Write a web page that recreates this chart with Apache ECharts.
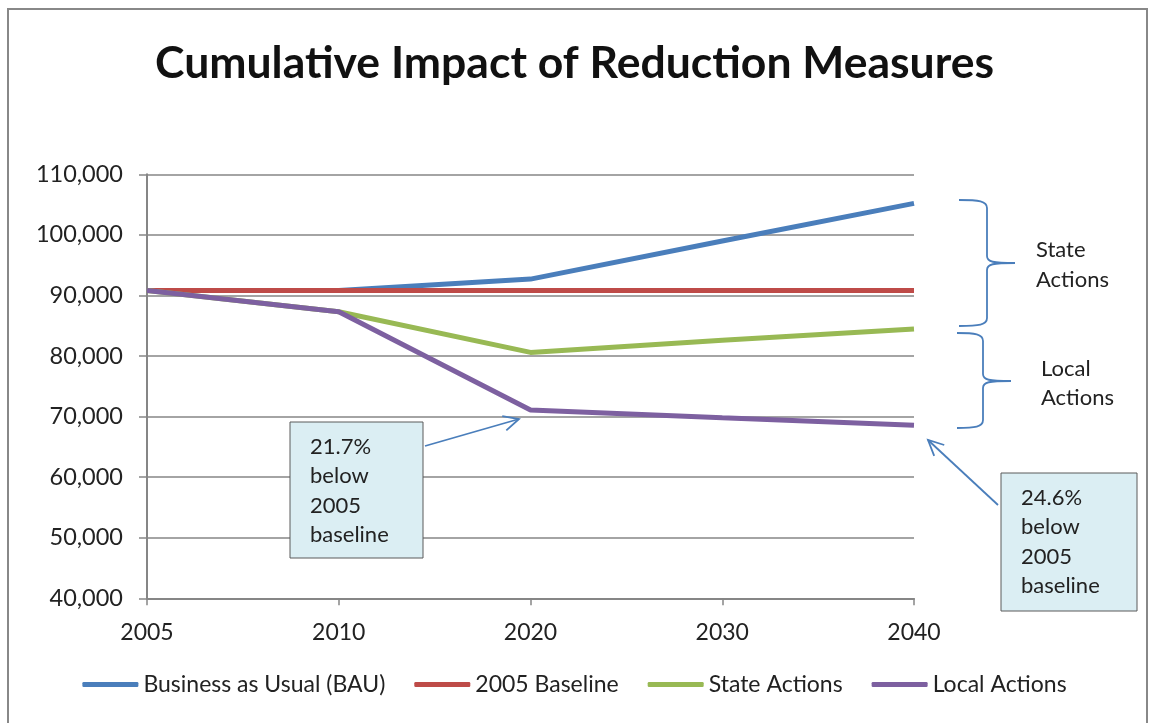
<!DOCTYPE html>
<html>
<head>
<meta charset="utf-8">
<title>Cumulative Impact of Reduction Measures</title>
<script src="https://cdn.jsdelivr.net/npm/echarts@6/dist/echarts.min.js"></script>
<style>
    html, body { margin: 0; padding: 0; background: #fff; }
    #main { width: 1149px; height: 723px; }
</style>
</head>
<body>
<div id="main"></div>
<script>
// data
var years = ['2005', '2010', '2020', '2030', '2040'];
var bauValues = [90800, 90800, 92700, 99000, 105200];
var baselineValues = [90800, 90800, 90800, 90800, 90800];
var stateValues = [90800, 87300, 80600, 82600, 84450];
var localValues = [90800, 87300, 71100, 69800, 68550];
var seriesNames = ['Business as Usual (BAU)', '2005 Baseline', 'State Actions', 'Local Actions'];
var seriesColors = ['#4a7ebb', '#be4b48', '#98b954', '#7d60a0'];
var note2020 = ['21.7%', 'below', '2005', 'baseline'];
var note2040 = ['24.6%', 'below', '2005', 'baseline'];

var fontFam = 'Lato, "Open Sans", sans-serif';
var textColor = '#222';
var annoStyle = { stroke: '#4a7ebb', lineWidth: 1.8, fill: null };

function makeLine(name, data, color) {
    return {
        name: name,
        type: 'line',
        data: data,
        showSymbol: false,
        symbol: 'none',
        lineStyle: { width: 5, color: color },
        itemStyle: { color: color },
        animation: false
    };
}

// 注释框
function noteBox(x, y, w, h, lines) {
    return {
        type: 'group',
        x: x, y: y, z: 100,
        children: [{
            type: 'rect',
            z: 100,
            shape: { x: 0, y: 0, width: w, height: h },
            style: { fill: '#dbeef3', stroke: '#5a5a5a', lineWidth: 1 }
        }, {
            type: 'text',
            z: 101,
            x: 20, y: 10,
            style: {
                text: lines.join('\n'),
                font: '22px ' + fontFam,
                lineHeight: 29.5,
                fill: textColor
            }
        }]
    };
}

function arrow(x1, y1, x2, y2) {
    var ang = Math.atan2(y2 - y1, x2 - x1);
    var len = 17, spread = 0.45;
    var ax = x2 - len * Math.cos(ang - spread), ay = y2 - len * Math.sin(ang - spread);
    var bx = x2 - len * Math.cos(ang + spread), by = y2 - len * Math.sin(ang + spread);
    return {
        type: 'group',
        z: 100,
        children: [
            { type: 'line', z: 100, shape: { x1: x1, y1: y1, x2: x2, y2: y2 }, style: annoStyle },
            { type: 'polyline', z: 100, shape: { points: [[ax, ay], [x2, y2], [bx, by]] }, style: annoStyle }
        ]
    };
}

// 大括号
function curve(x1, y1, cx1, cy1, cx2, cy2, x2, y2) {
    return {
        type: 'bezierCurve',
        z: 100,
        shape: { x1: x1, y1: y1, cpx1: cx1, cpy1: cy1, cpx2: cx2, cpy2: cy2, x2: x2, y2: y2 },
        style: annoStyle
    };
}
function brace(xStart, xMid, xTip, yTop, yTip, yBot) {
    return {
        type: 'group',
        z: 100,
        children: [
            curve(xStart, yTop, xMid - 8, yTop, xMid, yTop + 1, xMid, yTop + 8),
            { type: 'line', z: 100, shape: { x1: xMid, y1: yTop + 8, x2: xMid, y2: yTip - 7 }, style: annoStyle },
            curve(xMid, yTip - 7, xMid, yTip - 1, xMid + 6, yTip, xTip, yTip),
            curve(xTip, yTip, xMid + 6, yTip, xMid, yTip + 1, xMid, yTip + 7),
            { type: 'line', z: 100, shape: { x1: xMid, y1: yTip + 7, x2: xMid, y2: yBot - 8 }, style: annoStyle },
            curve(xMid, yBot - 8, xMid, yBot - 1, xMid - 8, yBot, xStart, yBot)
        ]
    };
}

var chart = echarts.init(document.getElementById('main'));
var option = {
    backgroundColor: '#fff',
    animation: false,
    title: {
        text: 'Cumulative Impact of Reduction Measures',
        left: 'center',
        top: 36,
        textStyle: { fontFamily: fontFam, fontSize: 44.5, fontWeight: 'bold', color: '#111' }
    },
    grid: { left: 147, right: 235, top: 174.3, bottom: 124.7, containLabel: false },
    legend: {
        data: seriesNames,
        top: 668,
        left: 'center',
        icon: 'roundRect',
        itemWidth: 56,
        itemHeight: 5,
        itemGap: 29,
        textStyle: { fontFamily: fontFam, fontSize: 23, color: textColor }
    },
    xAxis: {
        type: 'category',
        data: years,
        boundaryGap: false,
        axisLine: { lineStyle: { color: '#868686', width: 2 } },
        axisTick: { show: true, length: 7, lineStyle: { color: '#868686', width: 1.5 } },
        axisLabel: { fontFamily: fontFam, fontSize: 23, color: textColor, margin: 23 },
        splitLine: { show: false }
    },
    yAxis: {
        type: 'value',
        min: 40000,
        max: 110000,
        interval: 10000,
        axisLine: { show: true, lineStyle: { color: '#868686', width: 2 } },
        axisTick: { show: true, length: 8, lineStyle: { color: '#868686', width: 1.5 } },
        axisLabel: {
            fontFamily: fontFam, fontSize: 23.5, color: textColor, margin: 24,
            formatter: function(v) { return v.toLocaleString('en-US'); }
        },
        splitLine: { lineStyle: { color: '#868686', width: 1.6 } }
    },
    series: [
        makeLine(seriesNames[0], bauValues, seriesColors[0]),
        makeLine(seriesNames[1], baselineValues, seriesColors[1]),
        makeLine(seriesNames[2], stateValues, seriesColors[2]),
        makeLine(seriesNames[3], localValues, seriesColors[3])
    ],
    graphic: [
        {
            type: 'rect',
            shape: { x: 8, y: 9, width: 1139, height: 730 },
            style: { fill: null, stroke: '#888', lineWidth: 2 },
            silent: true
        },
        noteBox(290, 422, 133, 136, note2020),
        noteBox(1001, 473, 136, 138, note2040),
        arrow(425, 446, 519, 419),
        arrow(998, 505, 928, 440),
        brace(959, 987, 1015, 200, 263, 326),
        brace(957, 983, 1011, 333, 381, 428),
        {
            type: 'text', x: 1036, y: 235, z: 100,
            style: { text: 'State\nActions', font: '22px ' + fontFam, lineHeight: 30, fill: textColor }
        },
        {
            type: 'text', x: 1041, y: 354, z: 100,
            style: { text: 'Local\nActions', font: '22px ' + fontFam, lineHeight: 29, fill: textColor }
        }
    ]
};
chart.setOption(option);
</script>
</body>
</html>
